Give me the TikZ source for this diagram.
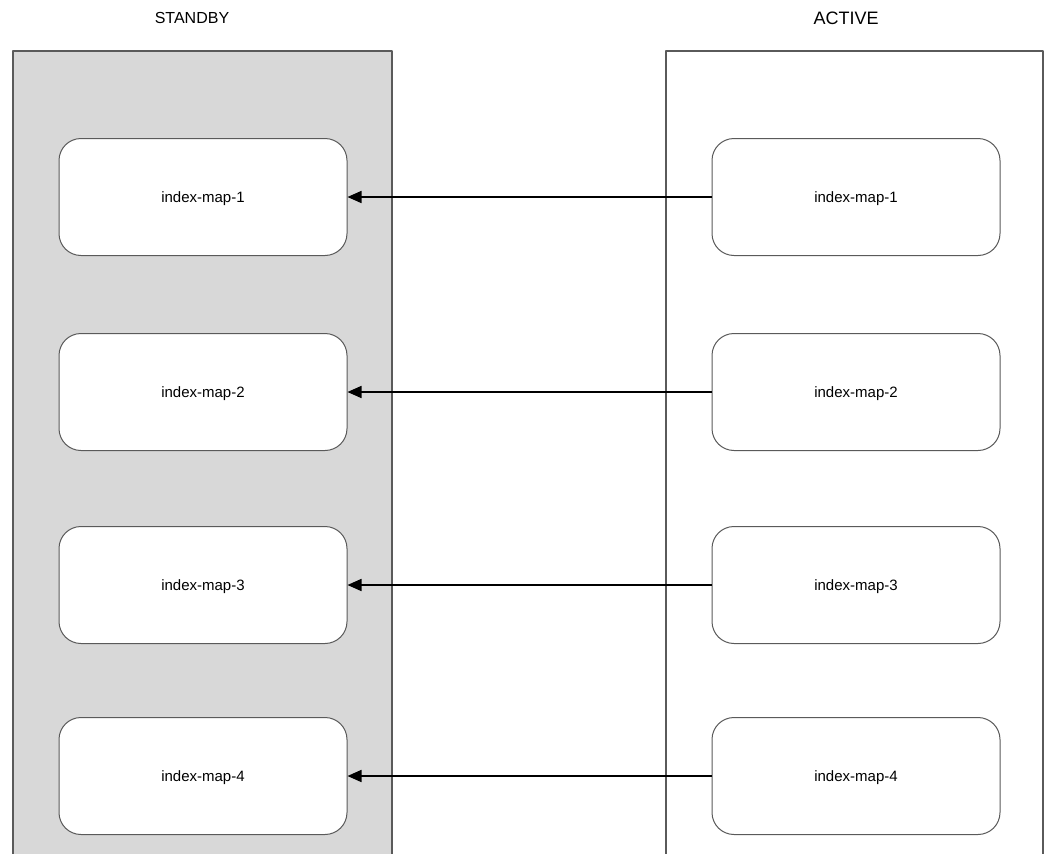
\documentclass[tikz,border=0pt]{standalone}
\usepackage{fontspec}
\setmainfont{Liberation Sans}
\usetikzlibrary{arrows.meta}

\definecolor{panelgray}{RGB}{216,216,216}
\definecolor{edgegray}{RGB}{90,90,90}

\tikzset{
  mapbox/.style={draw=edgegray,fill=white,line width=1pt,rounded corners=22pt,
    minimum width=288pt,minimum height=117pt,text depth=0pt,
    font=\fontsize{15}{18}\selectfont},
  panel/.style={draw=edgegray,line width=1.2pt},
  sync/.style={->,line width=1.7pt,black}
}

\begin{document}
\begin{tikzpicture}[line join=round,>={Triangle[length=14pt,width=12pt]},x=1pt,y=-1pt]
\useasboundingbox (0,0) rectangle (1045,854);
% the two sides
\fill[panelgray] (13,51) rectangle (392,854);
\draw[panel] (13,854) -- (13,51) -- (392,51) -- (392,854);
\draw[panel] (666,854) -- (666,51) -- (1043,51) -- (1043,854);
\node[font=\fontsize{16}{19}\selectfont] (standby) at (192,18) {STANDBY};
\node[font=\fontsize{18}{21}\selectfont] (active) at (846,18) {ACTIVE};
% one map on each side, copied from active to standby
\foreach \i/\y in {1/197,2/392,3/585,4/776}
{
\node[mapbox] (s\i) at (203,\y) {index-map-\i};
\node[mapbox] (a\i) at (856,\y) {index-map-\i};
\draw[sync] (a\i) -- (s\i);
}
\end{tikzpicture}
\end{document}
